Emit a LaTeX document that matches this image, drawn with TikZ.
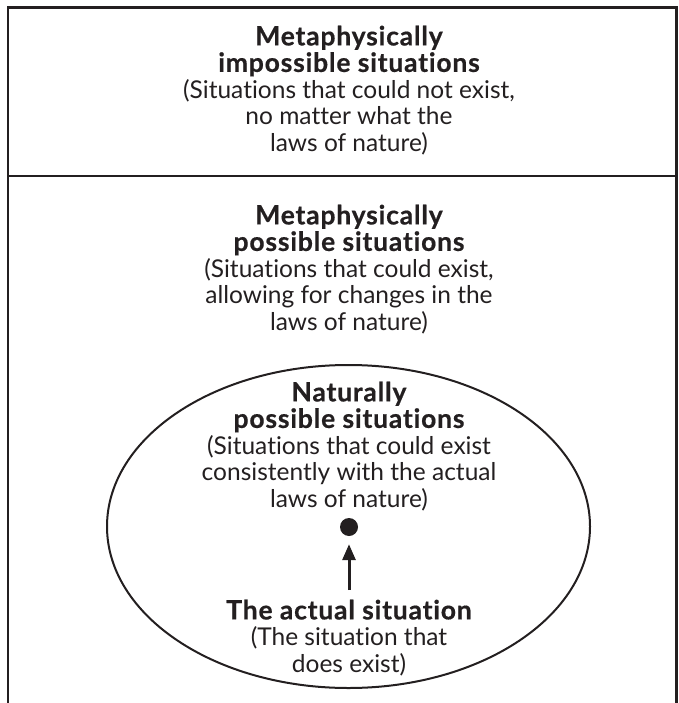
\documentclass[tikz,border=0pt]{standalone}
\usepackage{fontspec}
\setmainfont{Lato}[Ligatures=NoCommon,BoldFeatures={LetterSpace=3,FakeBold=0.5}]
\usetikzlibrary{arrows.meta,shapes.geometric}
\definecolor{ink}{HTML}{231F20}
\newcommand{\head}[1]{{\fontsize{26.5}{26.5}\selectfont\bfseries #1}}
\begin{document}
\begin{tikzpicture}[x=1pt,y=-1pt,
  frame/.style={draw=ink,line width=2.6pt},
  divider/.style={draw=ink,line width=2pt},
  region/.style={ellipse,draw=ink,line width=2pt,inner sep=0pt},
  label/.style={align=center,inner sep=0pt,anchor=north,text=ink,
    font=\fontsize{24.5}{26.5}\selectfont},
  pointer/.style={draw=ink,line width=3pt,
    -{Triangle[width=13pt,length=16pt]}}]
  \useasboundingbox (0,0) rectangle (678,703);

  % open-bottomed frame and the divider between the two kinds of situation
  \draw[frame] (8,712) -- (8,7.5) -- (676.5,7.5) -- (676.5,712);
  \coordinate (divL) at (8,176);
  \coordinate (divR) at (676.5,176);
  \draw[divider] (divL) -- (divR);

  % region of naturally possible situations
  \node[region,minimum width=483pt,minimum height=323pt] (natural) at (348.5,526.5) {};

  \node[label] (impossible) at (349,25.5)
    {\head{Metaphysically}\\\head{impossible situations}\\(Situations that could not exist,\\no matter what the\\laws of nature)};
  \node[label] (possible) at (349,204.5)
    {\head{Metaphysically}\\\head{possible situations}\\(Situations that could exist,\\allowing for changes in the\\laws of nature)};
  \node[label] (naturally) at (349,381.5)
    {\head{Naturally}\\\head{possible situations}\\(Situations that could exist\\consistently with the actual\\laws of nature)};
  \node[label] (actual) at (349,599.5)
    {\head{The actual situation}\\(The situation that\\does exist)};

  % the actual situation as a point in the region
  \node[circle,fill=ink,inner sep=0pt,minimum size=18pt] (dot) at (349,527) {};
  \draw[pointer,shorten <=9.5pt,shorten >=8pt] (actual.north) -- (dot.south);
\end{tikzpicture}
\end{document}
